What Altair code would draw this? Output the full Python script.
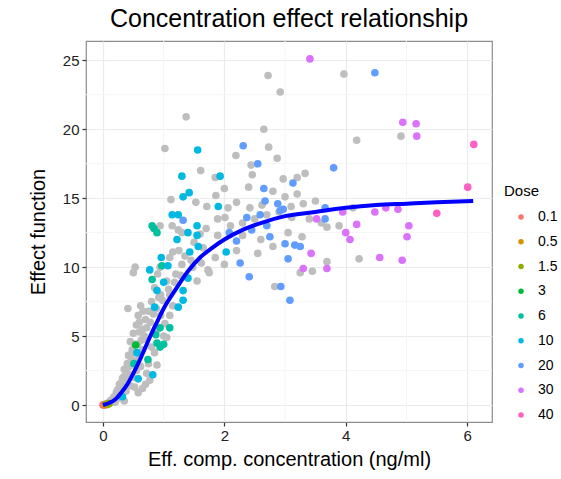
import altair as alt
import pandas as pd

# ---------------- data ----------------
dose_levels = ["0.1", "0.5", "1.5", "3", "6", "10", "20", "30", "40"]
dose_colors = ["#F8766D", "#D39200", "#93AA00", "#00BA38", "#00C19F",
               "#00B9E3", "#619CFF", "#DB72FB", "#FF61C3"]

# grey background observations
grey_x = [1.37, 1.02, 2.72, 2.92, 2.65, 2.73, 2.19, 2.87, 2.44, 2.46, 1.61, 3.33, 3.2, 1.85,
          2.97, 1.12, 1.53, 1.86, 1.71, 2.2, 2.06, 2.62, 3.0, 2.42, 1.14, 0.94, 1.30, 1.24,
          1.89, 2.01, 1.89, 3.11, 3.69, 3.89, 4.12, 3.28, 3.05, 2.6, 2.8, 3.69, 3.25, 3.45,
          4.22, 2.83, 4.18, 4.91, 3.97,
          1.15, 1.25, 1.65, 1.85, 1.73, 1.75, 0.53, 0.5, 0.94, 1.1, 1.2, 1.05, 0.9, 1.3, 1.45,
          1.55, 1.1, 0.95, 0.85,
          0.41, 0.58, 0.6, 0.55, 0.65, 0.7, 0.75, 0.8, 0.62, 0.5, 0.45, 0.48, 0.42, 0.4, 0.35,
          0.33, 0.3, 0.28, 0.22, 0.18, 0.12, 0.08, 0.05, 0.15, 0.25, 0.3, 0.38, 0.45, 0.5, 0.55,
          0.6, 0.65, 0.7, 0.62, 0.72, 0.77, 0.89, 0.85, 0.8, 1.0, 1.05, 1.02, 0.95, 0.9, 1.1,
          1.15, 0.55, 0.45, 0.4, 0.52, 0.35, 0.2, 0.65, 0.58, 0.7, 0.75,
          1.5, 1.6, 1.7, 2.1, 2.3, 2.5, 2.7, 2.9, 3.1, 3.3, 3.5, 3.2, 2.8, 2.4, 2.0, 3.4, 3.6,
          2.3, 2.55, 2.2, 2.0,
          0.68, 0.72, 0.57, 0.63, 0.47, 0.53, 0.43, 0.37, 0.32, 0.27, 0.24, 0.78, 0.83, 0.88,
          0.98, 1.08, 1.18, 1.28, 1.35, 1.48, 1.62, 0.92, 0.66, 0.6, 0.52, 0.46, 0.39]
grey_y = [20.9, 18.6, 23.9, 22.7, 20.0, 18.7, 18.1, 17.9, 17.4, 16.7, 17.0, 16.8, 16.5, 16.5,
          16.4, 14.9, 14.7, 15.2, 14.4, 14.7, 14.3, 14.5, 15.1, 14.3, 13.0, 13.0, 12.5, 12.7,
          13.5, 13.6, 12.3, 13.6, 12.9, 13.0, 14.3, 12.2, 12.5, 12.0, 11.5, 10.4, 9.6, 9.7,
          10.6, 8.6, 19.2, 19.5, 24.0,
          11.1, 11.2, 11.4, 10.7, 9.8, 9.6, 10.0, 9.6, 10.0, 10.7, 9.5, 9.0, 9.5, 10.2, 10.5,
          9.0, 8.0, 8.0, 8.5,
          7.0, 6.5, 6.0, 5.8, 5.5, 6.2, 6.8, 7.5, 7.2, 5.2, 4.6, 4.0, 3.6, 3.0, 2.6,
          2.0, 1.6, 1.2, 0.9, 0.6, 0.3, 0.15, 0.05, 0.4, 0.5, 0.8, 1.0, 1.4, 2.0, 2.5,
          3.5, 4.0, 4.8, 2.8, 2.3, 1.8, 2.9, 3.8, 4.2, 5.0, 4.9, 5.9, 6.5, 5.5, 6.5,
          7.2, 3.2, 2.2, 1.8, 1.3, 0.3, 0.2, 1.2, 0.9, 1.5, 3.0,
          11.8, 12.4, 12.8, 13.0, 13.2, 13.5, 13.8, 14.0, 14.4, 14.6, 14.8, 15.3, 15.5, 15.8,
          15.7, 13.5, 13.2, 12.3, 11.0, 11.2, 10.2,
          5.0, 5.6, 4.4, 4.7, 3.3, 3.8, 2.8, 2.2, 1.9, 1.5, 1.1, 6.0, 6.6, 7.0,
          7.6, 8.4, 8.9, 9.4, 10.8, 10.0, 10.3, 7.8, 6.8, 5.3, 4.4, 3.6, 2.4]

# coloured observations, one pair of lists per dose
d01_x, d01_y = [0.0, 0.01, 0.02], [0.0, 0.02, 0.01]
d05_x, d05_y = [0.04, 0.06], [0.05, 0.03]
d15_x, d15_y = [0.08, 0.1], [0.08, 0.1]
d3_x, d3_y = [0.54], [4.35]
d6_x = [0.81, 0.89, 0.84, 0.97, 0.81, 1.1, 0.94, 0.89, 0.94, 0.74, 0.51, 0.87, 1.0]
d6_y = [13.0, 12.5, 12.8, 10.1, 9.1, 5.6, 5.6, 4.5, 4.2, 3.3, 3.0, 5.1, 4.4]
d10_x = [1.56, 1.30, 1.93, 1.42, 1.32, 1.14, 1.24, 1.55, 1.90, 1.22, 1.40, 1.55, 1.43, 1.57,
         2.03, 0.96, 1.07, 0.77, 1.40, 0.89, 1.0, 1.32, 1.32, 1.24, 0.85, 0.56, 0.82, 0.58, 0.32]
d10_y = [18.5, 16.6, 16.6, 15.4, 15.1, 13.8, 13.8, 13.0, 14.4, 12.0, 12.5, 12.3, 11.1, 11.5,
         11.1, 10.7, 10.1, 9.8, 9.2, 8.3, 8.9, 8.3, 7.6, 7.1, 7.1, 3.8, 2.2, 1.9, 0.6]
d20_x = [2.31, 2.55, 3.13, 2.65, 2.67, 2.88, 2.97, 1.32, 2.37, 2.59, 2.70, 2.08, 2.2, 2.45,
         2.75, 3.0, 3.16, 3.25, 3.66, 3.66, 3.05, 2.26, 2.41, 2.93, 3.08, 3.8, 4.48, 2.92]
d20_y = [18.8, 17.5, 16.1, 15.7, 14.8, 14.6, 14.2, 13.4, 13.6, 13.8, 13.0, 12.5, 11.9, 12.7,
         12.2, 11.7, 11.6, 11.5, 13.5, 14.3, 10.6, 10.3, 9.3, 8.6, 7.6, 17.2, 24.1, 14.1]
d30_x = [3.41, 4.94, 5.16, 5.17, 3.52, 3.95, 4.0, 4.07, 4.18, 4.48, 4.66, 4.86, 5.04, 5.01,
         4.56, 4.93, 3.43, 3.3, 3.69]
d30_y = [25.1, 20.5, 20.4, 19.5, 13.5, 14.0, 12.5, 12.0, 13.1, 14.0, 14.3, 14.2, 13.0, 12.2,
         10.7, 10.5, 11.0, 9.9, 9.9]
d40_x, d40_y = [6.11, 6.01, 5.5], [18.9, 15.8, 13.9]

# fitted concentration-effect curve
curve_x = [0, 0.1, 0.2, 0.3, 0.4, 0.5, 0.6, 0.7, 0.8, 0.9, 1.0, 1.2, 1.4, 1.6, 1.8, 2.0,
           2.3, 2.6, 3.0, 3.5, 4.0, 4.5, 5.0, 5.5, 6.1]
curve_y = [0, 0.15, 0.4, 0.9, 1.5, 2.3, 3.2, 4.2, 5.2, 6.1, 7.0, 8.4, 9.7, 10.7, 11.4, 12.0,
           12.7, 13.2, 13.7, 14.0, 14.3, 14.5, 14.6, 14.7, 14.8]

x_ticks = [0, 2, 4, 6]
y_ticks = [0, 5, 10, 15, 20, 25]
x_minor = [1, 3, 5]
y_minor = [2.5, 7.5, 12.5, 17.5, 22.5]

# ---------------- tables ----------------
grey_df = pd.DataFrame({"x": grey_x, "y": grey_y})
dose_xy = [(d01_x, d01_y), (d05_x, d05_y), (d15_x, d15_y), (d3_x, d3_y), (d6_x, d6_y),
           (d10_x, d10_y), (d20_x, d20_y), (d30_x, d30_y), (d40_x, d40_y)]
rows = []
for lvl, (xs, ys) in zip(dose_levels, dose_xy):
    for a, b in zip(xs, ys):
        rows.append({"x": a, "y": b, "Dose": lvl})
dose_df = pd.DataFrame(rows)
# title-only legend entries (distinct labels so that the two legends are not merged)
key_levels = ["k" + d for d in dose_levels]
key_df = pd.DataFrame({"x": [0.0] * len(key_levels), "y": [0.0] * len(key_levels),
                       "Key": key_levels})
curve_df = pd.DataFrame({"x": curve_x, "y": curve_y})
xminor_df = pd.DataFrame({"x": x_minor})
yminor_df = pd.DataFrame({"y": y_minor})

FONT = "Liberation Sans"
xscale = alt.Scale(domain=[-0.28, 6.41], nice=False, zero=False)
yscale = alt.Scale(domain=[-1.23, 26.4], nice=False, zero=False)
xaxis = alt.Axis(values=x_ticks, title="Eff. comp. concentration (ng/ml)", grid=True,
                 gridColor="#EBEBEB", gridWidth=1.2, domain=False, tickColor="#333333",
                 tickSize=4, tickWidth=1.2, labelFontSize=15, labelColor="#222222",
                 labelPadding=2, titleFontSize=20, titleFontWeight="normal",
                 titleColor="#000000", titlePadding=6, labelFont=FONT, titleFont=FONT)
yaxis = alt.Axis(values=y_ticks, title="Effect function", grid=True, gridColor="#EBEBEB",
                 gridWidth=1.2, domain=False, tickColor="#333333", tickSize=4, tickWidth=1.2,
                 labelFontSize=15, labelColor="#222222", labelPadding=3, titleFontSize=20,
                 titleFontWeight="normal", titleColor="#000000", titlePadding=14,
                 labelFont=FONT, titleFont=FONT)

xminor_layer = alt.Chart(xminor_df).mark_rule(color="#F5F5F5", strokeWidth=1).encode(
    x=alt.X("x:Q", scale=xscale, axis=xaxis))
yminor_layer = alt.Chart(yminor_df).mark_rule(color="#F5F5F5", strokeWidth=1).encode(
    y=alt.Y("y:Q", scale=yscale, axis=yaxis))

grey_layer = alt.Chart(grey_df).mark_circle(size=58, color="#BEBEBE", opacity=1).encode(
    x=alt.X("x:Q", scale=xscale, axis=xaxis),
    y=alt.Y("y:Q", scale=yscale, axis=yaxis))

dose_layer = alt.Chart(dose_df).mark_circle(size=58, opacity=1).encode(
    x=alt.X("x:Q", scale=xscale, axis=xaxis),
    y=alt.Y("y:Q", scale=yscale, axis=yaxis),
    color=alt.Color("Dose:N", scale=alt.Scale(domain=dose_levels, range=dose_colors),
                    legend=alt.Legend(title="", orient="none", legendX=428, legendY=169,
                                      labelFont=FONT, labelFontSize=14, labelColor="#000000",
                                      symbolType="circle", symbolSize=30,
                                      symbolStrokeWidth=0, rowPadding=10.75, labelOffset=10,
                                      padding=0)))

# invisible layer whose legend only carries the "Dose" title at the ggplot position
key_layer = alt.Chart(key_df).mark_point(size=0, filled=False, opacity=1).encode(
    x=alt.X("x:Q", scale=xscale, axis=xaxis),
    y=alt.Y("y:Q", scale=yscale, axis=yaxis),
    stroke=alt.Stroke("Key:N", scale=alt.Scale(domain=key_levels,
                                               range=["transparent"] * len(key_levels)),
                      legend=alt.Legend(title="Dose", orient="none", legendX=418, legendY=143,
                                        titleFontSize=15, titleFontWeight="normal",
                                        titleFont=FONT, titleColor="#000000", titlePadding=6,
                                        labelExpr="''", labelFontSize=14,
                                        symbolType="square", symbolSize=600,
                                        symbolFillColor="transparent", symbolStrokeWidth=0,
                                        padding=0)))

curve_layer = alt.Chart(curve_df).mark_line(color="#0000FF", strokeWidth=4,
                                            interpolate="monotone").encode(
    x=alt.X("x:Q", scale=xscale, axis=xaxis),
    y=alt.Y("y:Q", scale=yscale, axis=yaxis))

chart = alt.layer(xminor_layer, yminor_layer, grey_layer, dose_layer, key_layer,
                  curve_layer).properties(
    width=406, height=381,
    title=alt.TitleParams("Concentration effect relationship", fontSize=25,
                          fontWeight="normal", font=FONT, color="#000000",
                          anchor="middle", offset=9),
    autosize=alt.AutoSizeParams(type="none"),
    padding={"left": 86, "top": 41, "right": 69, "bottom": 57},
    background="#FFFFFF",
).configure_view(stroke="#8C8C8C", strokeWidth=1.2)

chart.save("out.html", embed_options={"renderer": "svg", "actions": False})
